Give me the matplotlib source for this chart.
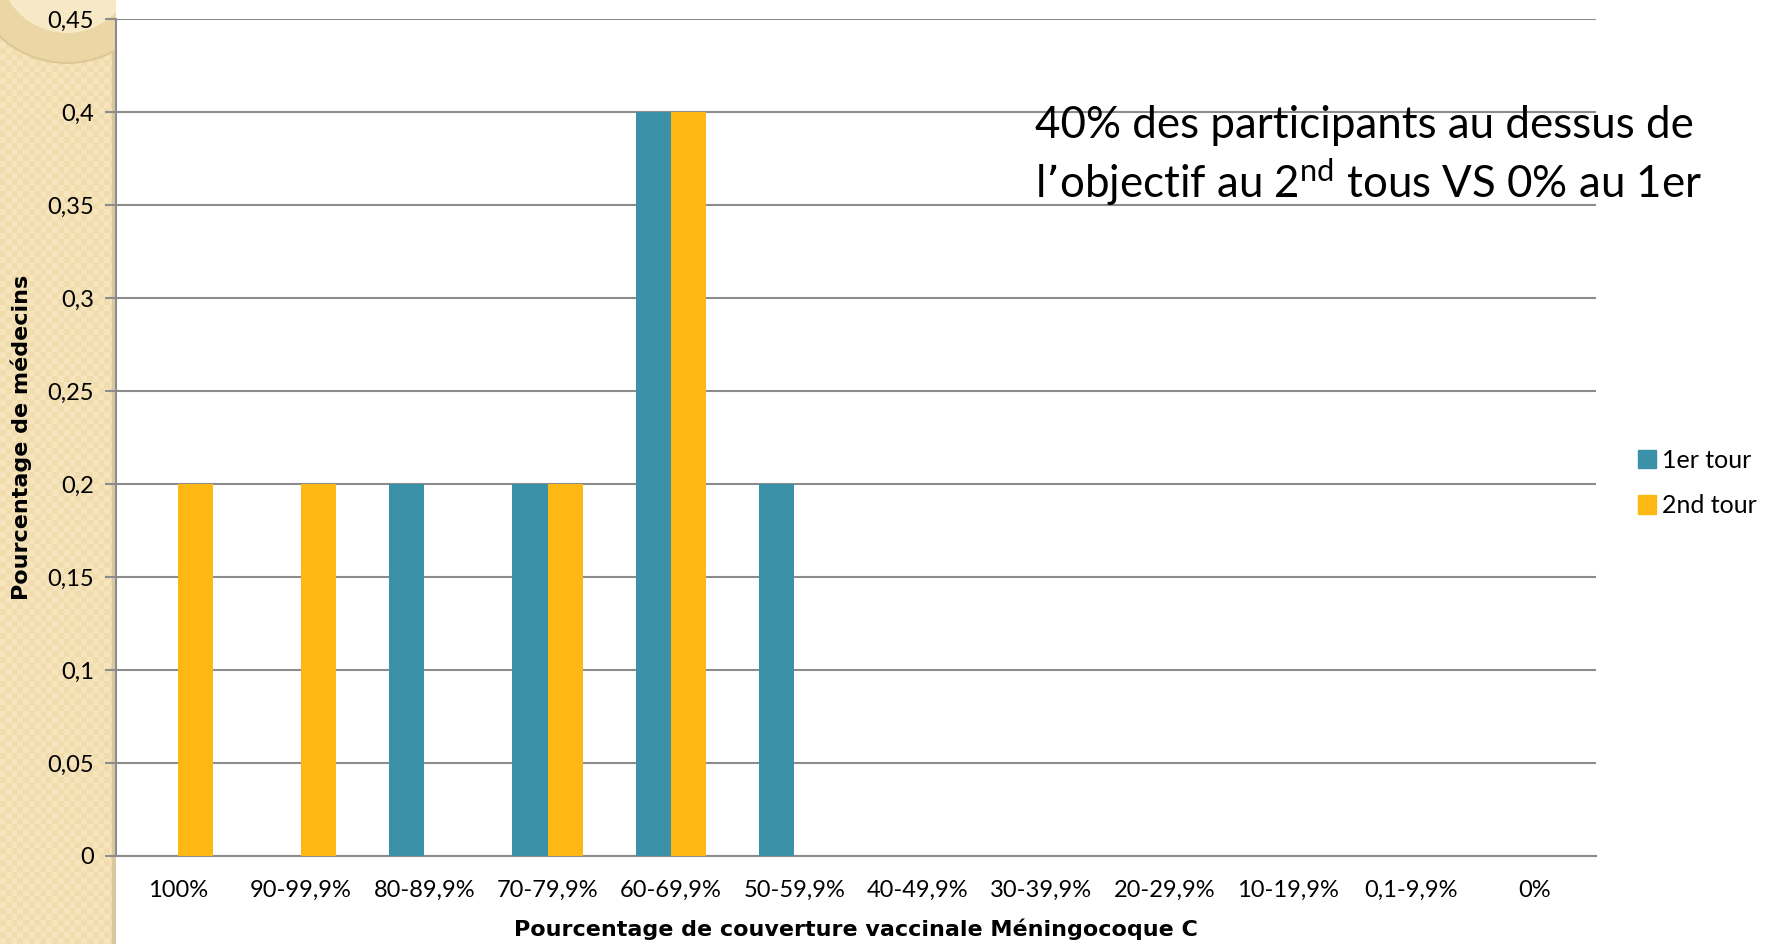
import matplotlib
matplotlib.use("Agg")
import matplotlib.pyplot as plt
import numpy as np
from matplotlib.patches import Rectangle, Wedge, Patch

categories = ["100%", "90-99,9%", "80-89,9%", "70-79,9%", "60-69,9%", "50-59,9%",
              "40-49,9%", "30-39,9%", "20-29,9%", "10-19,9%", "0,1-9,9%", "0%"]
tour1 = [0, 0, 0.2, 0.2, 0.4, 0.2, 0, 0, 0, 0, 0, 0]
tour2 = [0.2, 0.2, 0, 0.2, 0.4, 0, 0, 0, 0, 0, 0, 0]
series_names = ["1er tour", "2nd tour"]
yticks = [0, 0.05, 0.1, 0.15, 0.2, 0.25, 0.3, 0.35, 0.4, 0.45]
ytick_labels = ["0", "0,05", "0,1", "0,15", "0,2", "0,25", "0,3", "0,35", "0,4", "0,45"]

C1 = "#3A91A8"
C2 = "#FDB813"
FONT = ["Lato", "DejaVu Sans"]
plt.rcParams['font.family'] = FONT

W, H = 1771, 944
fig = plt.figure(figsize=(W / 100, H / 100), dpi=100)

# beige strip on the left (slide background)
bg = fig.add_axes([0, 0, 116 / W, 1])
bg.set_xlim(0, 116)
bg.set_ylim(0, H)
bg.axis("off")
pat = np.zeros((H // 6 + 1, 116 // 6 + 1))
pat[::2, ::2] = 1
pat[1::2, 1::2] = 1
bg.imshow(pat, extent=(0, 116, 0, H), cmap=matplotlib.colors.ListedColormap(["#F6E5BC", "#F0DCAD"]),
          aspect="auto", interpolation="nearest", zorder=1)
bg.add_patch(Rectangle((112, 0), 4, H, color="#D9C7A0", zorder=2))
bg.add_patch(Wedge((67, H + 35), 99, 0, 360, width=31, facecolor="#DCC795", edgecolor="none", zorder=3))
bg.add_patch(Wedge((67, H + 35), 97, 0, 360, width=29, facecolor="#EBD7A5", edgecolor="none", zorder=4))
bg.add_patch(Wedge((67, H + 35), 68, 0, 360, facecolor="#F7E9C6", edgecolor="none", zorder=4))

L, R, T, B = 116, 1596, 19, 856
ax = fig.add_axes([L / W, 1 - B / H, (R - L) / W, (B - T) / H])
x = np.arange(len(categories))
bw = 1 / 3.5
ax.bar(x - bw / 2, tour1, bw, color=C1, zorder=3, label=series_names[0])
ax.bar(x + bw / 2, tour2, bw, color=C2, zorder=3, label=series_names[1])

ax.set_xlim(-0.5, len(categories) - 0.5)
ax.set_ylim(0, 0.45)
ax.set_yticks(yticks)
ax.set_yticklabels(ytick_labels, fontsize=17)
ax.set_xticks(x)
ax.set_xticklabels(categories, fontsize=17)
ax.tick_params(axis="x", length=0, pad=17)
ax.tick_params(axis="y", length=8, color="#8C8C8C", width=1.5, pad=8)
ax.grid(axis="y", color="#8C8C8C", linewidth=1.5, zorder=0)
for s in ["top", "right"]:
    ax.spines[s].set_visible(False)
ax.spines["left"].set_color("#8C8C8C")
ax.spines["left"].set_linewidth(1.5)
ax.spines["bottom"].set_color("#8C8C8C")
ax.spines["bottom"].set_linewidth(1.5)
ax.patch.set_alpha(0)

fig.text(856 / W, 1 - 929 / H, "Pourcentage de couverture vaccinale Méningocoque C", fontsize=16,
         fontweight="bold", ha="center", va="center", family="DejaVu Sans")
fig.text(21 / W, 1 - 437 / H, "Pourcentage de médecins", rotation=90, fontsize=16,
         fontweight="bold", ha="center", va="center", family="DejaVu Sans")

handles = [Patch(color=C1), Patch(color=C2)]
fig.legend(handles, series_names, loc="center left", bbox_to_anchor=(1615 / W, 1 - 483 / H),
           frameon=False, fontsize=18, handlelength=0.75, handleheight=0.75,
           handletextpad=0.25, labelspacing=0.9)

fig.text(1035 / W, 1 - 125 / H, "40% des participants au dessus de", fontsize=31.6,
         ha="left", va="center")
fig.text(1035 / W, 1 - 182 / H, "l’objectif au 2$^{\\mathregular{nd}}$ tous VS 0% au 1er", fontsize=31.6,
         ha="left", va="center")

fig.savefig("out.png", dpi=100)
